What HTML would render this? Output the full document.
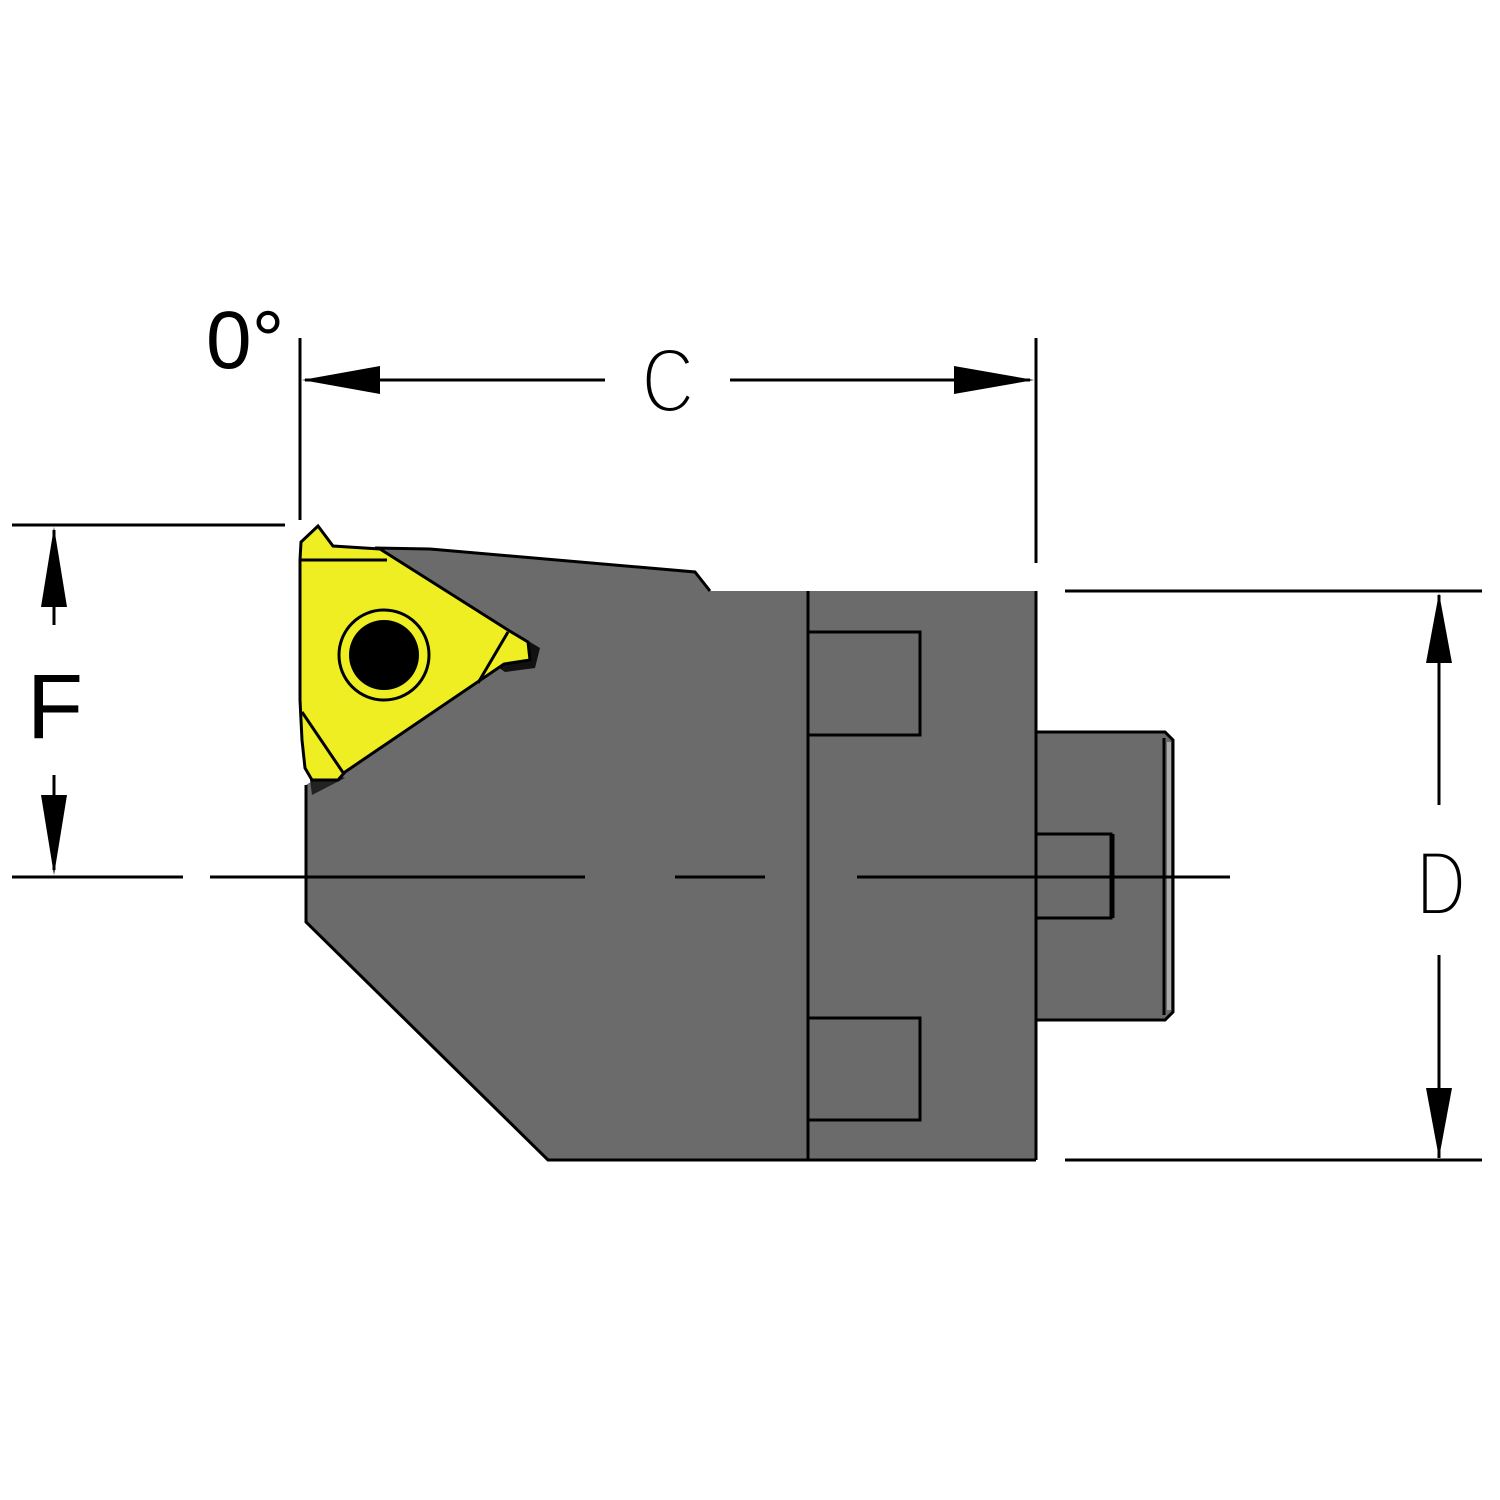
<!DOCTYPE html>
<html><head><meta charset="utf-8"><style>html,body{margin:0;padding:0;background:#fff}svg{display:block}</style></head>
<body>
<svg width="1500" height="1500" viewBox="0 0 1500 1500" xmlns="http://www.w3.org/2000/svg">
<rect width="1500" height="1500" fill="#fff"/>
<!-- body -->
<polygon points="330,548 430,549 695,572 710,591 1036,591 1036,1160 548,1160 306,922 306,785 330,770" fill="#6b6b6b"/>
<polyline points="375,548 430,549 695,572 710,591" fill="none" stroke="#000" stroke-width="3"/>
<polyline points="306,785 306,922 548,1160 1036,1160" fill="none" stroke="#000" stroke-width="3"/>
<line x1="1036" y1="591" x2="1036" y2="1160" stroke="#000" stroke-width="3"/>
<line x1="808" y1="591" x2="808" y2="1160" stroke="#000" stroke-width="3"/>
<path d="M808,632 H920 V735 H808" fill="none" stroke="#000" stroke-width="3"/>
<path d="M808,1018 H920 V1120 H808" fill="none" stroke="#000" stroke-width="3"/>
<!-- shank -->
<polygon points="1036,732 1165,732 1173,740 1173,1012 1165,1020 1036,1020" fill="#6b6b6b" stroke="#000" stroke-width="3"/>
<line x1="1164" y1="738" x2="1164" y2="1015" stroke="#000" stroke-width="3"/>
<rect x="1167" y="742" width="4" height="268" fill="#aaa"/>
<path d="M1036,834 H1111 V918 H1036" fill="none" stroke="#000" stroke-width="3"/>
<line x1="1112" y1="834" x2="1112" y2="918" stroke="#000" stroke-width="5"/>
<!-- insert shadow -->
<polygon points="520,636 540,648 535,668 505,672 495,665" fill="#111"/>
<polygon points="310,780 330,772 345,778 312,795" fill="#222"/>
<!-- insert -->
<polygon points="300,560 301,542 318,526 333,546 380,549 508,630 528,642 530,660 504,664 345,772 338,780 312,780 305,768 302,740 300,700" fill="#eeee22" stroke="#000" stroke-width="3"/>
<line x1="301" y1="560" x2="387" y2="560" stroke="#000" stroke-width="3"/>
<line x1="508" y1="632" x2="478" y2="683" stroke="#000" stroke-width="3"/>
<line x1="302" y1="712" x2="344" y2="774" stroke="#000" stroke-width="3"/>
<circle cx="384" cy="655" r="45" fill="none" stroke="#000" stroke-width="3"/>
<circle cx="384" cy="655" r="35" fill="#000"/>
<!-- centerline -->
<g stroke="#000" stroke-width="3">
<line x1="12" y1="877" x2="183" y2="877"/>
<line x1="210" y1="877" x2="585" y2="877"/>
<line x1="675" y1="877" x2="765" y2="877"/>
<line x1="857" y1="877" x2="1230" y2="877"/>
<line x1="300" y1="338" x2="300" y2="520"/>
<line x1="1036" y1="338" x2="1036" y2="563"/>
<line x1="305" y1="380" x2="605" y2="380"/>
<line x1="730" y1="380" x2="1030" y2="380"/>
<line x1="12" y1="525" x2="285" y2="525"/>
<line x1="54" y1="530" x2="54" y2="625"/>
<line x1="54" y1="775" x2="54" y2="870"/>
<line x1="1065" y1="591" x2="1482" y2="591"/>
<line x1="1065" y1="1160" x2="1482" y2="1160"/>
<line x1="1439" y1="595" x2="1439" y2="805"/>
<line x1="1439" y1="955" x2="1439" y2="1158"/>
</g>
<g fill="#000">
<polygon points="302,380 380,366 380,394"/>
<polygon points="1034,380 954,366 954,394"/>
<polygon points="54,527 41,607 67,607"/>
<polygon points="54,875 41,795 67,795"/>
<polygon points="1439,593 1426,663 1452,663"/>
<polygon points="1439,1158 1426,1088 1452,1088"/>
</g>
<g font-family="Liberation Sans, sans-serif" fill="#000">
<text x="206" y="368" font-size="82">0°</text>
<text x="668" y="412" font-size="92" text-anchor="middle" transform="translate(668,0) scale(0.8,1) translate(-668,0)" stroke="#fff" stroke-width="4" paint-order="normal">C</text>
<text x="55" y="738" font-size="92" text-anchor="middle">F</text>
<text x="1441" y="915" font-size="92" text-anchor="middle" transform="translate(1441,0) scale(0.75,1) translate(-1441,0)" stroke="#fff" stroke-width="4">D</text>
</g>
</svg>
</body></html>
